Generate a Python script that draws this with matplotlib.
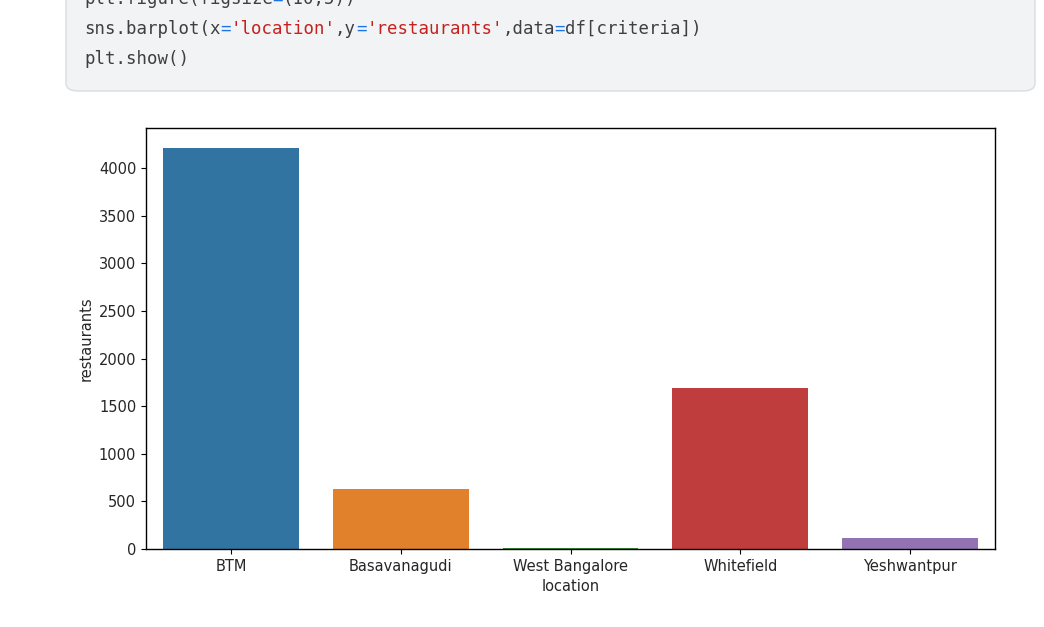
import matplotlib
matplotlib.use("Agg")
import matplotlib.pyplot as plt
from matplotlib.patches import FancyBboxPatch

# ---- data ----
locations = ["BTM", "Basavanagudi", "West Bangalore", "Whitefield", "Yeshwantpur"]
restaurants = [4210, 630, 15, 1690, 112]
bar_colors = ["#3274a1", "#e1812c", "#3a923a", "#c03d3e", "#9372b2"]
y_ticks = [0, 500, 1000, 1500, 2000, 2500, 3000, 3500, 4000]

code_lines = [
    [("plt.figure(figsize", "#3c4043"), ("=", "#1a73e8"), ("(10,5))", "#3c4043")],
    [("sns.barplot(x", "#3c4043"), ("=", "#1a73e8"), ("'location'", "#c5221f"),
     (",y", "#3c4043"), ("=", "#1a73e8"), ("'restaurants'", "#c5221f"),
     (",data", "#3c4043"), ("=", "#1a73e8"), ("df[criteria])", "#3c4043")],
    [("plt.show()", "#3c4043")],
]

W, H = 1044, 627
fig = plt.figure(figsize=(W / 100, H / 100), dpi=100)
fig.patch.set_facecolor("white")

def fx(px):
    return px / W

def fy(py):
    return 1 - py / H

# code cell box
box = FancyBboxPatch((fx(66), fy(91)), fx(1035) - fx(66), fy(-20) - fy(91),
                     boxstyle="round,pad=0,rounding_size=0.012",
                     transform=fig.transFigure, facecolor="#f1f3f4",
                     edgecolor="#dadce0", linewidth=1.0, zorder=0)
fig.patches.append(box)

code_fs = 12.5
char_w = 0.6021 * code_fs * 100 / 72
line_y = [-1, 29, 59]
for line, yy in zip(code_lines, line_y):
    col = 0
    for seg, c in line:
        fig.text(fx(84 + col * char_w), fy(yy), seg, color=c,
                 family="DejaVu Sans Mono", fontsize=code_fs, va="center", ha="left")
        col += len(seg)

# chart axes
ax = fig.add_axes([fx(146), fy(549), fx(995) - fx(146), fy(128) - fy(549)])
x = list(range(len(locations)))
ax.bar(x, restaurants, width=0.8, color=bar_colors, edgecolor="none")
ax.set_xlim(-0.5, len(locations) - 0.5)
ax.set_ylim(0, max(restaurants) * 1.05)
ax.set_xticks(x)
ax.set_xticklabels(locations)
ax.set_yticks(y_ticks)
ax.tick_params(labelsize=10.5, colors="#262626")
ax.tick_params(axis="both", color="black")
ax.set_xlabel("location", fontsize=10.5, color="#262626")
ax.set_ylabel("restaurants", fontsize=10.5, color="#262626")
for s in ax.spines.values():
    s.set_color("black")
    s.set_linewidth(1.0)

fig.savefig("out.png", dpi=100)
